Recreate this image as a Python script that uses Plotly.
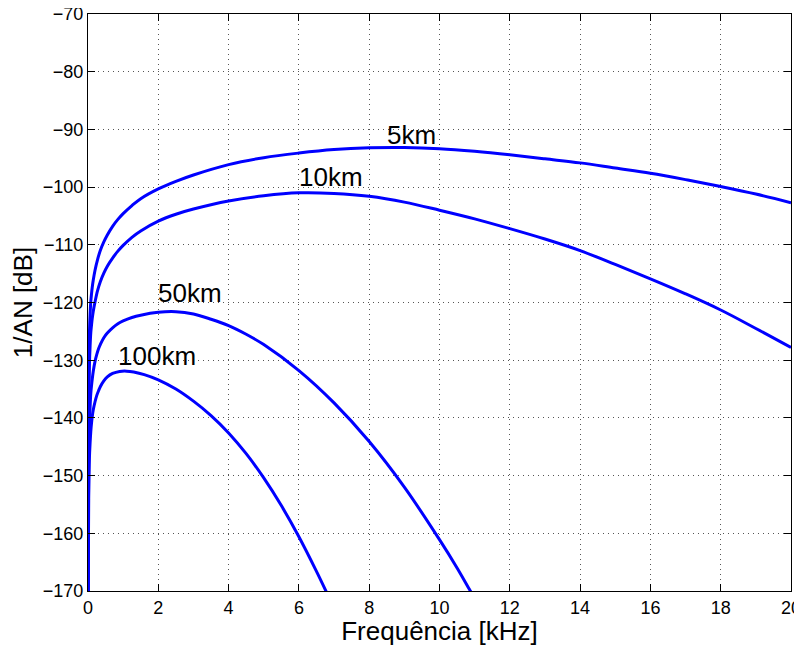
import plotly.graph_objects as go

# Frequency (kHz) / 1/AN (dB)
f_5km = [0.001, 0.003, 0.01, 0.02, 0.04, 0.06, 0.08, 0.1, 0.12, 0.15, 0.2, 0.27, 0.35, 0.45, 0.55, 0.7, 0.85, 1.0, 1.25, 1.5, 2, 2.5, 3, 4, 5, 6, 7, 8, 9, 10, 11, 12, 13, 14, 15, 16, 17, 18, 19, 20]
v_5km = [-172, -158, -142, -133, -125.5, -122.0, -119.8, -118.5, -117.4, -116.1, -114.4, -112.6, -111.0, -109.5, -108.3, -106.8, -105.6, -104.6, -103.2, -102.0, -100.3, -99.0, -97.9, -96.1, -94.9, -94.1, -93.5, -93.2, -93.15, -93.35, -93.8, -94.4, -95.1, -95.8, -96.7, -97.6, -98.7, -99.9, -101.2, -102.7]

f_10km = [0.001, 0.003, 0.01, 0.02, 0.04, 0.06, 0.08, 0.1, 0.12, 0.15, 0.2, 0.27, 0.35, 0.45, 0.55, 0.7, 0.85, 1.0, 1.25, 1.5, 2, 2.5, 3, 4, 5, 6, 7, 8, 9, 10, 11, 12, 13, 14, 15, 16, 17, 18, 19, 20]
v_10km = [-177, -163, -147.5, -138.5, -131, -127.5, -125.2, -123.9, -122.8, -121.5, -119.9, -118.0, -116.4, -114.9, -113.7, -112.3, -111.1, -110.1, -108.7, -107.6, -105.9, -104.7, -103.8, -102.4, -101.5, -101.0, -101.1, -101.6, -102.6, -104.0, -105.5, -107.2, -109.0, -111.0, -113.4, -115.9, -118.5, -121.3, -124.5, -127.8]

f_50km = [0.001, 0.003, 0.01, 0.02, 0.04, 0.06, 0.08, 0.1, 0.12, 0.15, 0.2, 0.25, 0.3, 0.35, 0.45, 0.55, 0.7, 0.85, 1.0, 1.25, 1.5, 2, 2.5, 3, 3.5, 4, 4.5, 5, 6, 7, 8, 9, 10, 10.5, 10.85, 11]
v_50km = [-188, -174, -158, -149, -141.5, -138.0, -135.7, -134.4, -133.3, -131.9, -130.2, -129.0, -128.0, -127.3, -126.1, -125.3, -124.4, -123.7, -123.2, -122.6, -122.2, -121.7, -121.6, -122.0, -122.9, -124.0, -125.5, -127.3, -131.8, -137.4, -144.1, -152.0, -161.1, -166.0, -169.7, -171.3]

f_100km = [0.001, 0.003, 0.01, 0.02, 0.04, 0.06, 0.08, 0.1, 0.12, 0.15, 0.2, 0.25, 0.3, 0.35, 0.45, 0.55, 0.7, 0.9, 1.1, 1.3, 1.6, 2, 2.5, 3, 3.5, 4, 4.5, 5, 5.5, 6, 6.5, 6.8]
v_100km = [-195, -180, -164, -154, -147, -144.3, -142.3, -140.9, -139.8, -138.6, -137.2, -136.1, -135.3, -134.6, -133.6, -132.9, -132.3, -131.95, -131.9, -132.05, -132.5, -133.4, -135.0, -137.1, -139.6, -142.6, -146.2, -150.4, -155.2, -160.6, -166.6, -170.4]

labels = ["5km", "10km", "50km", "100km"]
label_x = [9.2, 6.9, 2.9, 1.96]
label_y = [-91.0, -98.3, -118.4, -129.3]

x_ticks = list(range(0, 21, 2))
y_ticks = list(range(-170, -69, 10))

FONT = "Liberation Sans, Arial"

fig = go.Figure()
for fx, fy in [(f_5km, v_5km), (f_10km, v_10km), (f_50km, v_50km), (f_100km, v_100km)]:
    fig.add_trace(go.Scatter(x=fx, y=fy, mode="lines",
                             line=dict(color="#0000ff", width=3, shape="spline", smoothing=1.0),
                             showlegend=False, hoverinfo="skip"))

for t, lx, ly in zip(labels, label_x, label_y):
    fig.add_annotation(x=lx, y=ly, text=t, showarrow=False,
                       font=dict(size=26, color="black", family=FONT))

axis_common = dict(
    showline=True, linecolor="black", linewidth=1.2, mirror="allticks",
    ticks="inside", ticklen=7, tickcolor="black", tickwidth=1,
    showgrid=True, gridcolor="#555555", gridwidth=1, griddash="1px,4px",
    zeroline=False, automargin=False, ticklabeloverflow="allow",
    tickfont=dict(size=18, color="black", family=FONT),
)

fig.update_xaxes(range=[0, 20], tickvals=x_ticks,
                 title=dict(text="Frequência [kHz]", standoff=4,
                            font=dict(size=26, color="black", family=FONT)),
                 **axis_common)
fig.update_yaxes(range=[-170, -70], tickvals=y_ticks,
                 title=dict(text="1/AN [dB]", standoff=6,
                            font=dict(size=26, color="black", family=FONT)),
                 **axis_common)

# page body has an 8px margin, so the figure is sized/offset to compensate
fig.update_layout(width=802, height=638,
                  margin=dict(l=80, r=19, t=6, b=55, autoexpand=False),
                  paper_bgcolor="white", plot_bgcolor="white",
                  font=dict(family=FONT, color="black"))

fig.write_html("out.html",
               post_script="document.documentElement.style.overflow='hidden';"
                           "document.body.style.overflow='hidden';")
